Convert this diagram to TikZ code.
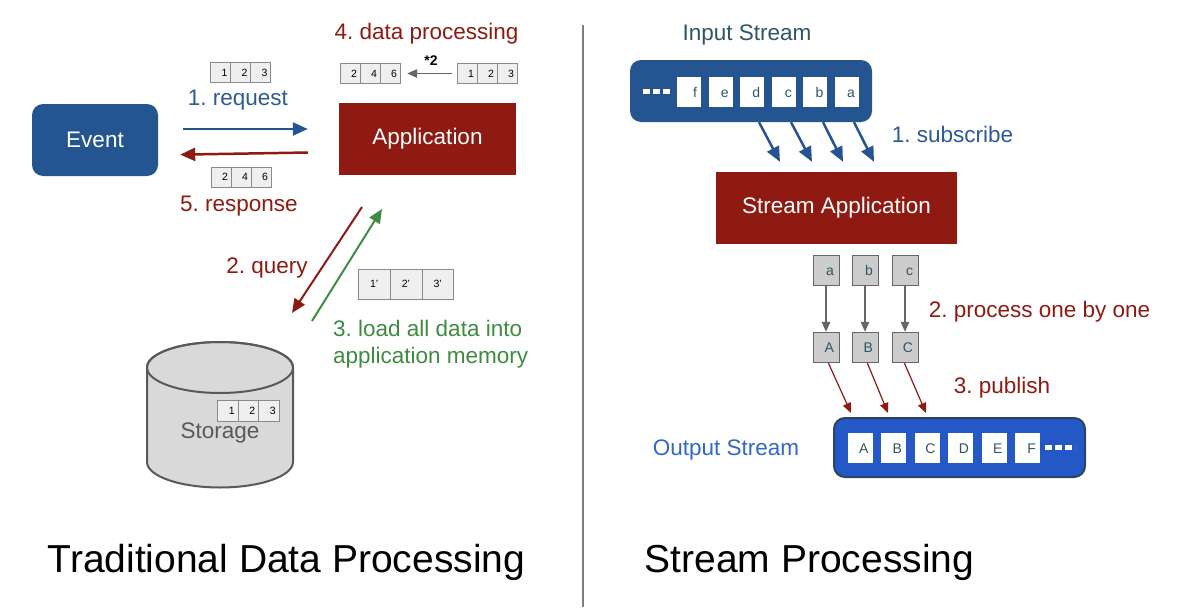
\documentclass[tikz,border=0pt]{standalone}
\usepackage{fontspec}
\setmainfont{Liberation Sans}
\usepackage{tikz}
\usetikzlibrary{arrows.meta,positioning}
\frenchspacing
\definecolor{evblue}{HTML}{245591}
\definecolor{appred}{HTML}{8E1A12}
\definecolor{reqblue}{HTML}{2B5A9A}
\definecolor{loadgreen}{HTML}{3D8C40}
\definecolor{outblue}{HTML}{2458C6}
\definecolor{outline}{HTML}{2B4658}
\definecolor{outtext}{HTML}{3366CC}
\definecolor{ink}{HTML}{2F5566}
\definecolor{cellfill}{HTML}{EFEFEF}
\definecolor{cellline}{HTML}{8A8A8A}
\definecolor{boxgray}{HTML}{CCCCCC}
\definecolor{boxline}{HTML}{666666}
\definecolor{dbfill}{HTML}{D9D9D9}
\definecolor{dbline}{HTML}{595959}
\tikzset{
  lbl/.style = {inner sep=0pt, font=\fontsize{22.5}{27}\selectfont},
  title/.style = {inner sep=0pt, font=\fontsize{39}{44}\selectfont},
  block/.style = {lbl, text=white, minimum height=72pt},% event / application
  cell/.style = {draw=cellline, fill=cellfill, inner sep=0pt, inner xsep=3pt,
    text width=14pt, align=right, minimum height=20pt, text height=7.5pt,
    text depth=0pt, font=\fontsize{10.5}{12}\selectfont},% array of numbers
  pcell/.style = {cell, text width=25.7pt, align=center, minimum height=30pt},
  letter/.style = {fill=white, inner sep=0pt, inner xsep=4pt, text width=16pt,
    align=right, minimum height=30pt, text height=10pt, text depth=0pt,
    text=ink, font=\fontsize{14}{16}\selectfont},% stream record
  gbox/.style = {letter, draw=boxline, fill=boxgray, inner xsep=5pt},
  stream/.style = {rounded corners=11pt, fill=evblue},
  fat/.style = {line width=2.5pt, -{Triangle[length=15pt,width=13pt]}},
  mid/.style = {line width=2pt, -{Triangle[length=14pt,width=12pt]}},
  slim/.style = {line width=1.2pt, -{Triangle[length=10pt,width=8.5pt]}}
}
\begin{document}
\begin{tikzpicture}[x=1pt, y=-1pt]
\useasboundingbox (0,0) rectangle (1202,613);

% traditional side
\node[block, fill=evblue, rounded corners=11pt, minimum width=126pt] (ev) at (95,140) {Event};
\node[block, fill=appred, minimum width=177pt] (app) at (427.5,139) {Application};
\node[lbl, text=appred] (dplbl) at (426.5,34) {4. data processing};
\node[lbl, text=reqblue] (req) at (238,100) {1. request};
\node[lbl, text=appred] (resp) at (239,206) {5. response};
\node[lbl, text=appred] (qry) at (267,268) {2. query};
\node[lbl, text=loadgreen, align=left, anchor=west] (load) at (333,344)
  {3. load all data into\\application memory};

\foreach \v [count=\i] in {1,2,3} \node[cell] (rq\i) at (200.5+20*\i,72.5) {\v};
\foreach \v [count=\i] in {2,4,6} \node[cell] (rs\i) at (201+20*\i,177) {\v};
\foreach \v [count=\i] in {2,4,6} \node[cell] (dst\i) at (330+20*\i,73.5) {\v};
\foreach \v [count=\i] in {1,2,3} \node[cell] (src\i) at (447+20*\i,73.5) {\v};
\foreach \v [count=\i] in {1',2',3'} \node[pcell] (pr\i) at (342.5+31.7*\i,284) {\v};

\draw[slim, boxline, shorten <=5pt, shorten >=7pt] (src1.west) -- (dst3.east);
\node[inner sep=0pt, font=\fontsize{14}{17}\selectfont\bfseries] (mul) at (431,61) {*2};

\draw[fat, evblue, shorten <=25pt, shorten >=31pt] ([yshift=11pt]ev.east) -- ([yshift=10pt]app.west);
\draw[fat, appred, shorten <=31pt, shorten >=22pt] ([yshift=-13pt]app.west) -- ([yshift=-15pt]ev.east);

\coordinate (q1) at (362,207);
\coordinate (q2) at (292,313);
\coordinate (l1) at (312,321);
\coordinate (l2) at (382,209);
\draw[mid, appred] (q1) -- (q2);
\draw[mid, loadgreen] (l1) -- (l2);

% storage
\draw[line width=2pt, draw=dbline, fill=dbfill] (147,367.5) -- (147,462)
  arc[start angle=180, end angle=360, x radius=73pt, y radius=25.5pt] -- (293,367.5)
  arc[start angle=0, end angle=180, x radius=73pt, y radius=25.5pt] -- cycle;
\draw[line width=2pt, dbline] (220,367.5) ellipse [x radius=73pt, y radius=25.5pt];
\foreach \v [count=\i] in {1,2,3}
  \node[cell, text width=14.5pt, minimum height=21pt] (db\i) at (207+20.5*\i,410.5) {\v};
\node[lbl, text=dbline] (db) at (220,433) {Storage};

\draw[line width=1.5pt, boxline!85] (583,25) -- (583,607);
\node[title] (trad) at (286.5,562) {Traditional Data Processing};
\node[title] (strm) at (809.5,562) {Stream Processing};

% stream side
\node[lbl, text=ink] (inlbl) at (747,35) {Input Stream};
\node[stream, minimum width=242pt, minimum height=62pt] (ins) at (751,91) {};
\draw[white, line width=5pt, dash pattern=on 7pt off 3pt] (643,91) -- (673,91);
\foreach \l [count=\i from 0] in {f,e,d,c,b,a}
  \node[letter] (in\l) at (689+31.6*\i,92) {\l};

\node[block, fill=appred, minimum width=241pt] (sa) at (836.5,208) {Stream Application};
\foreach \s/\e in {8/-56.5, 40/-24.5, 72/6.5, 103/37.5}
  \draw[fat, evblue] ([xshift=\s pt]ins.south) -- ([xshift=\e pt, yshift=10pt]sa.north);
\node[lbl, text=reqblue] (sub) at (952.5,134) {1. subscribe};

\foreach \l/\L/\x in {a/A/826, b/B/865, c/C/905} {
  \node[gbox] (raw\l) at (\x,270) {\l};
  \node[gbox] (new\L) at (\x,347) {\L};
  \draw[slim, boxline] (raw\l) -- (new\L);
}
\node[lbl, text=appred] (proc) at (1039.5,312) {2. process one by one};

\node[stream, fill=outblue, draw=outline, line width=2pt, minimum width=251pt,
  minimum height=59pt] (out) at (959.5,447.5) {};
\foreach \L [count=\i from 0] in {A,B,C,D,E,F}
  \node[letter, text width=17pt] (out\L) at (860+33.5*\i,448) {\L};
\draw[white, line width=5pt, dash pattern=on 7pt off 3pt] (1045,447) -- (1075,447);
\node[lbl, text=outtext] (outlbl) at (726,450) {Output Stream};

\foreach \L/\s/\e in {A/2/-108.5, B/2/-71.5, C/-1/-33.5}
  \draw[slim, appred, shorten <=1pt] ([xshift=\s pt]new\L.south) -- ([xshift=\e pt, yshift=4pt]out.north);
\node[lbl, text=appred] (pub) at (1002,388) {3. publish};
\end{tikzpicture}
\end{document}
